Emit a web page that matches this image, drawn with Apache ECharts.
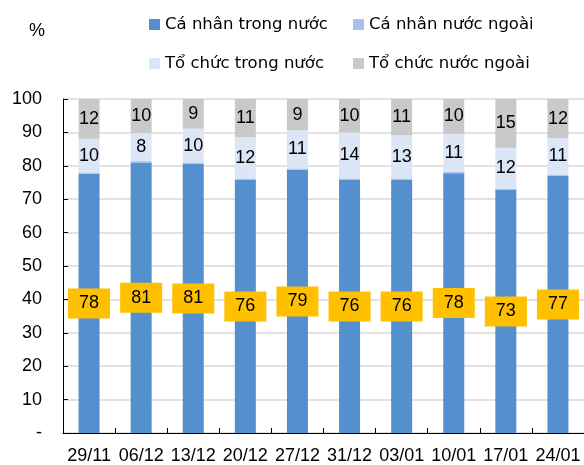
<!DOCTYPE html>
<html><head><meta charset="utf-8">
<script src="https://cdn.jsdelivr.net/npm/echarts@6/dist/echarts.min.js"></script>
<style>html,body{margin:0;padding:0;background:#fff}#c{width:584px;height:465px}</style>
</head><body><div id="c"></div>
<script>
var categories = ['29/11','06/12','13/12','20/12','27/12','31/12','03/01','10/01','17/01','24/01'];
var caNhanTrongNuoc = [77.6, 81.0, 80.6, 75.8, 78.8, 75.8, 75.8, 77.8, 72.8, 77.0];
var caNhanNuocNgoai = [0.4, 0.4, 0.4, 0.4, 0.4, 0.4, 0.4, 0.4, 0.4, 0.4];
var toChucTrongNuoc = [10.1, 8.4, 10.1, 12.4, 11.4, 13.8, 12.9, 11.4, 12.2, 10.9];
var toChucNuocNgoai = [11.9, 10.2, 8.9, 11.4, 9.4, 10.0, 10.9, 10.4, 14.6, 11.7];
var yTicks = [0,10,20,30,40,50,60,70,80,90,100];

var FONT = 'Liberation Sans, Arial, sans-serif';
var LFONT = 'DejaVu Sans, sans-serif';
var names = ['Cá nhân trong nước','Cá nhân nước ngoài','Tổ chức trong nước','Tổ chức nước ngoài'];
var colors = ['#5590CE','#A8C1E9','#DDE6F6','#C9C9C9'];
function lg(name, left, top){
  return {data:[name], left:left, top:top, itemWidth:11, itemHeight:11, itemGap:0,
    icon:'rect', textStyle:{fontFamily:LFONT, fontSize:16.5, color:'#000'}, selectedMode:false};
}
var roundFmt = function(p){ return Math.round(p.value); };
var chart = echarts.init(document.getElementById('c'), null, {renderer:'canvas'});
chart.setOption({
  animation:false,
  color: colors,
  graphic:[{type:'text', left:29, top:22, style:{text:'%', fontFamily:FONT, fontSize:18, fill:'#000'}}],
  legend:[lg(names[0],144,11), lg(names[1],348,11), lg(names[2],144,50), lg(names[3],348,50)],
  grid:{left:63, top:99, width:527, height:337},
  xAxis:{type:'category', data:categories,
    axisLine:{lineStyle:{color:'#000', width:1}},
    axisTick:{show:true, inside:true, length:5, lineStyle:{color:'#000'}},
    axisLabel:{fontFamily:FONT, fontSize:18, color:'#000', margin:14, interval:0}},
  yAxis:{type:'value', min:0, max:100, interval:10,
    axisLine:{show:true, lineStyle:{color:'#000', width:1}},
    axisTick:{show:true, inside:true, length:5, lineStyle:{color:'#000'}},
    splitLine:{lineStyle:{color:'#D9D9D9', width:1.5}},
    axisLabel:{fontFamily:FONT, fontSize:18, color:'#000', margin:21,
      formatter:function(v){ return v===0 ? '-' : String(v); }}},
  series:[
    {name:names[0], type:'bar', stack:'s', data:caNhanTrongNuoc, barWidth:21,
      label:{show:true, position:'inside', formatter:roundFmt, fontFamily:FONT, fontSize:18, color:'#000',
        backgroundColor:'#FFC000', padding:[6,11,6,11]}},
    {name:names[1], type:'bar', stack:'s', data:caNhanNuocNgoai, barWidth:21},
    {name:names[2], type:'bar', stack:'s', data:toChucTrongNuoc, barWidth:21,
      label:{show:true, position:'inside', formatter:roundFmt, fontFamily:FONT, fontSize:18, color:'#000'}},
    {name:names[3], type:'bar', stack:'s', data:toChucNuocNgoai, barWidth:21,
      label:{show:true, position:'inside', formatter:roundFmt, fontFamily:FONT, fontSize:18, color:'#000'}}
  ]
});
</script></body></html>
